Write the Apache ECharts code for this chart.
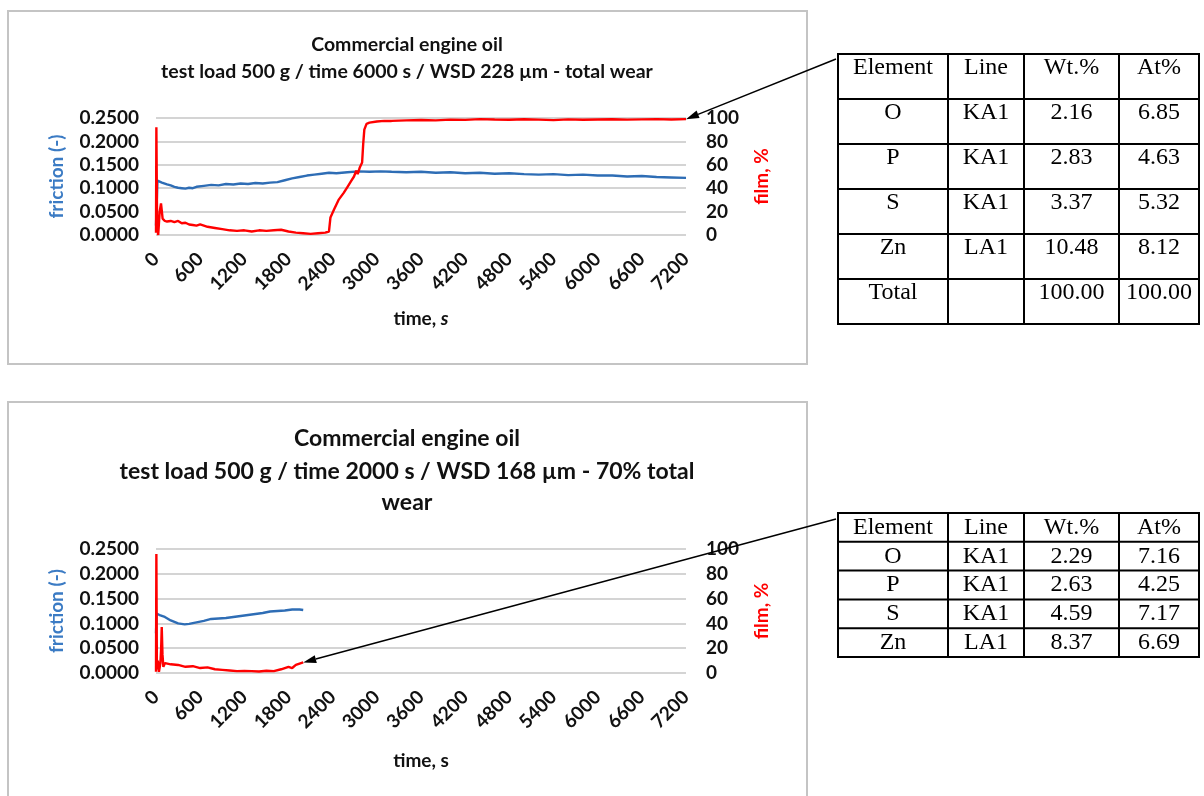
<!DOCTYPE html>
<html lang="en">
<head>
<meta charset="UTF-8">
<title>Commercial engine oil - friction and film</title>
<style>
  html, body {margin: 0; padding: 0; background: #fff}
  #main {width: 1204px; height: 796px}
</style>
<script src="https://cdn.jsdelivr.net/npm/echarts@6/dist/echarts.min.js"></script>
</head>
<body>
<div id="main"></div>
<script>
// run 1: 6000 s
const topFricTime = [0, 10, 20, 40, 80, 150, 200, 250, 300, 350, 400, 450, 500, 550, 650, 750, 850, 950, 1050, 1150, 1250, 1350, 1450, 1550, 1650, 1750, 1850, 1950, 2050, 2150, 2250, 2350, 2450, 2600, 2750, 2900, 3050, 3200, 3400, 3600, 3800, 4000, 4200, 4400, 4600, 4800, 5000, 5200, 5400, 5600, 5800, 6000, 6200, 6400, 6600, 6800, 7000, 7200];
const topFric = [0.020, 0.070, 0.116, 0.114, 0.112, 0.108, 0.106, 0.103, 0.101, 0.100, 0.099, 0.101, 0.100, 0.103, 0.105, 0.107, 0.106, 0.109, 0.108, 0.110, 0.109, 0.111, 0.110, 0.112, 0.113, 0.117, 0.121, 0.124, 0.127, 0.129, 0.131, 0.133, 0.132, 0.134, 0.136, 0.135, 0.136, 0.135, 0.134, 0.135, 0.133, 0.134, 0.132, 0.133, 0.131, 0.132, 0.130, 0.129, 0.130, 0.128, 0.129, 0.127, 0.127, 0.125, 0.126, 0.124, 0.123, 0.122];
const topFilmTime = [0, 5, 15, 30, 50, 68, 90, 120, 150, 200, 250, 300, 350, 400, 450, 500, 550, 600, 700, 800, 900, 1000, 1100, 1200, 1300, 1400, 1500, 1600, 1700, 1800, 1900, 2000, 2100, 2200, 2300, 2350, 2370, 2420, 2480, 2550, 2600, 2650, 2690, 2720, 2740, 2770, 2800, 2815, 2830, 2860, 2900, 3000, 3100, 3200, 3400, 3600, 3800, 4000, 4200, 4400, 4600, 4800, 5000, 5200, 5400, 5600, 5800, 6000, 6200, 6400, 6600, 6800, 7000, 7200];
const topFilm = [2, 92, 8, 0, 20, 27, 14, 12, 11.5, 12, 11, 12, 10, 10.5, 9, 8.5, 8, 9, 7, 6, 5, 4, 3.5, 4, 3, 4, 3.5, 4, 4.5, 3, 2, 1.5, 1, 1.5, 2, 3, 15, 22, 30, 36, 41, 46, 50, 55, 52, 58, 62, 78, 90, 95, 96, 97, 97.5, 97.5, 98, 98.3, 98, 98.6, 98.4, 99, 98.7, 98.5, 98.9, 98.6, 98.2, 98.8, 98.5, 98.7, 98.9, 98.6, 98.8, 99, 98.7, 99];

// run 2: 2000 s
const botFricTime = [0, 8, 30, 60, 120, 200, 300, 390, 450, 550, 650, 750, 850, 950, 1050, 1150, 1250, 1350, 1450, 1550, 1650, 1750, 1850, 1950, 2000];
const botFric = [0.080, 0.120, 0.119, 0.116, 0.113, 0.106, 0.100, 0.098, 0.099, 0.102, 0.105, 0.109, 0.110, 0.111, 0.113, 0.115, 0.117, 0.119, 0.121, 0.124, 0.125, 0.126, 0.128, 0.128, 0.127];
const botFilmTime = [0, 5, 12, 25, 40, 60, 70, 78, 88, 100, 122, 200, 300, 400, 500, 600, 700, 800, 900, 1000, 1100, 1200, 1300, 1400, 1500, 1600, 1700, 1800, 1850, 1900, 1960, 2000];
const botFilm = [1, 96, 3, 10, 1, 8, 20, 37, 15, 5, 8, 7, 6.5, 5, 5.5, 4, 4.5, 3, 2.5, 2, 1.5, 1.6, 1.5, 1.2, 1.8, 1.5, 3, 5, 4, 6.5, 7.8, 8.5];

// axes
const timeMax = 7200, timeStep = 600;
const fricMax = 0.25, fricStep = 0.05;
const filmMax = 100, filmStep = 20;

// EDS tables
const tableHead = ['Element', 'Line', 'Wt.%', 'At%'];
const topTableRows = [
  ['O', 'KA1', '2.16', '6.85'],
  ['P', 'KA1', '2.83', '4.63'],
  ['S', 'KA1', '3.37', '5.32'],
  ['Zn', 'LA1', '10.48', '8.12'],
  ['Total', '', '100.00', '100.00']
];
const botTableRows = [
  ['O', 'KA1', '2.29', '7.16'],
  ['P', 'KA1', '2.63', '4.25'],
  ['S', 'KA1', '4.59', '7.17'],
  ['Zn', 'LA1', '8.37', '6.69']
];

const zip = (a, b) => a.map((t, i) => [t, b[i]]);
const BLUE = '#2e6db5', RED = '#ff0000', FONT = 'Lato', INK = '#111';
const lbl = {fontSize: 19, fontFamily: FONT, color: INK, fontWeight: 'bold'};

function xAxisFor(gi, nameGap, italicS) {
  return {
    gridIndex: gi, type: 'value', min: 0, max: timeMax, interval: timeStep,
    axisLine: {show: false}, axisTick: {show: false}, splitLine: {show: false},
    axisLabel: Object.assign({rotate: 45, margin: 21, formatter: v => String(v)}, lbl),
    name: italicS ? '{a|time, }{b|s}' : 'time, s',
    nameLocation: 'middle', nameGap: nameGap,
    nameTextStyle: Object.assign({rich: {a: lbl, b: Object.assign({fontStyle: 'italic'}, lbl)}}, lbl)
  };
}
function fricAxis(gi) {
  return {
    gridIndex: gi, type: 'value', min: 0, max: fricMax, interval: fricStep,
    axisLine: {show: false}, axisTick: {show: false},
    splitLine: {lineStyle: {color: '#d4d4d4', width: 2}},
    axisLabel: Object.assign({margin: 17, formatter: v => v.toFixed(4)}, lbl),
    name: 'friction (-)', nameLocation: 'middle', nameRotate: 90, nameGap: 90,
    nameTextStyle: Object.assign({}, lbl, {color: '#3b7bc4'})
  };
}
function filmAxis(gi) {
  return {
    gridIndex: gi, type: 'value', position: 'right', min: 0, max: filmMax, interval: filmStep,
    axisLine: {show: false}, axisTick: {show: false}, splitLine: {show: false},
    axisLabel: Object.assign({margin: 20}, lbl),
    name: 'film, %', nameLocation: 'middle', nameRotate: 90, nameGap: 66,
    nameTextStyle: Object.assign({}, lbl, {color: RED})
  };
}
function line(data, xi, yi, color) {
  return {type: 'line', data: data, xAxisIndex: xi, yAxisIndex: yi, showSymbol: false,
          lineStyle: {color: color, width: 2.4}, itemStyle: {color: color}};
}

const chart = echarts.init(document.getElementById('main'));
chart.setOption({
  animation: false,
  grid: [
    {left: 156, top: 118, width: 530, height: 117},
    {left: 156, top: 549, width: 530, height: 124}
  ],
  xAxis: [xAxisFor(0, 74, true), xAxisFor(1, 78, false)],
  yAxis: [fricAxis(0), filmAxis(0), fricAxis(1), filmAxis(1)],
  series: [
    line(zip(topFricTime, topFric), 0, 0, BLUE),
    line(zip(topFilmTime, topFilm), 0, 1, RED),
    line(zip(botFricTime, botFric), 1, 2, BLUE),
    line(zip(botFilmTime, botFilm), 1, 3, RED)
  ]
});

// frames, titles, tables and arrows
const g = [];
g.push({type: 'rect', shape: {x: 8, y: 11, width: 799, height: 353},
        style: {fill: 'none', stroke: '#c4c4c4', lineWidth: 2}, z: -1});
g.push({type: 'rect', shape: {x: 8, y: 402, width: 799, height: 420},
        style: {fill: 'none', stroke: '#c4c4c4', lineWidth: 2}, z: -1});

function title(text, y, size) {
  g.push({type: 'text', x: 407, y: y,
          style: {text: text, fill: INK, font: 'bold ' + size + 'px ' + FONT,
                  align: 'center', verticalAlign: 'middle', textAlign: 'center', textVerticalAlign: 'middle'}});
}
title('Commercial engine oil', 45, 19.5);
title('test load 500 g / time 6000 s / WSD 228 \u00b5m - total wear', 72, 19.5);
title('Commercial engine oil', 439, 23);
title('test load 500 g / time 2000 s / WSD 168 \u00b5m - 70% total', 472, 23);
title('wear', 503, 23);

const colX = [838, 948, 1024, 1119, 1199];
function table(rows, top, rowH, textDy, size) {
  const all = [tableHead].concat(rows);
  const bottom = top + rowH * all.length;
  colX.forEach(x => g.push({type: 'line', shape: {x1: x, y1: top, x2: x, y2: bottom},
                            style: {stroke: '#000', lineWidth: 2}}));
  for (let r = 0; r <= all.length; r++) {
    const y = top + r * rowH;
    g.push({type: 'line', shape: {x1: colX[0] - 1, y1: y, x2: colX[4] + 1, y2: y},
            style: {stroke: '#000', lineWidth: 2}});
  }
  all.forEach((row, r) => row.forEach((cell, c) => {
    if (!cell) return;
    g.push({type: 'text', x: (colX[c] + colX[c + 1]) / 2, y: top + r * rowH + textDy,
            style: {text: cell, fill: '#000', font: size + 'px "Liberation Serif"',
                    align: 'center', verticalAlign: 'middle', textAlign: 'center', textVerticalAlign: 'middle'}});
  }));
}
table(topTableRows, 54, 45, 14, 24);
table(botTableRows, 513, 28.8, 14.5, 24);

function arrow(from, tip) {
  const dx = tip[0] - from[0], dy = tip[1] - from[1];
  const len = Math.sqrt(dx * dx + dy * dy), ux = dx / len, uy = dy / len;
  const bx = tip[0] - ux * 13, by = tip[1] - uy * 13;
  g.push({type: 'line', shape: {x1: from[0], y1: from[1], x2: bx, y2: by},
          style: {stroke: '#000', lineWidth: 1.5}, z: 10});
  g.push({type: 'polygon', shape: {points: [tip, [bx - uy * 4, by + ux * 4], [bx + uy * 4, by - ux * 4]]},
          style: {fill: '#000'}, z: 10});
}
const n1 = topFilmTime.length - 1, n2 = botFilmTime.length - 1;
arrow([836, 59], chart.convertToPixel({xAxisIndex: 0, yAxisIndex: 1}, [topFilmTime[n1], topFilm[n1]]));
arrow([836, 519], chart.convertToPixel({xAxisIndex: 1, yAxisIndex: 3}, [botFilmTime[n2], botFilm[n2]]));

chart.setOption({graphic: g});
</script>
</body>
</html>
